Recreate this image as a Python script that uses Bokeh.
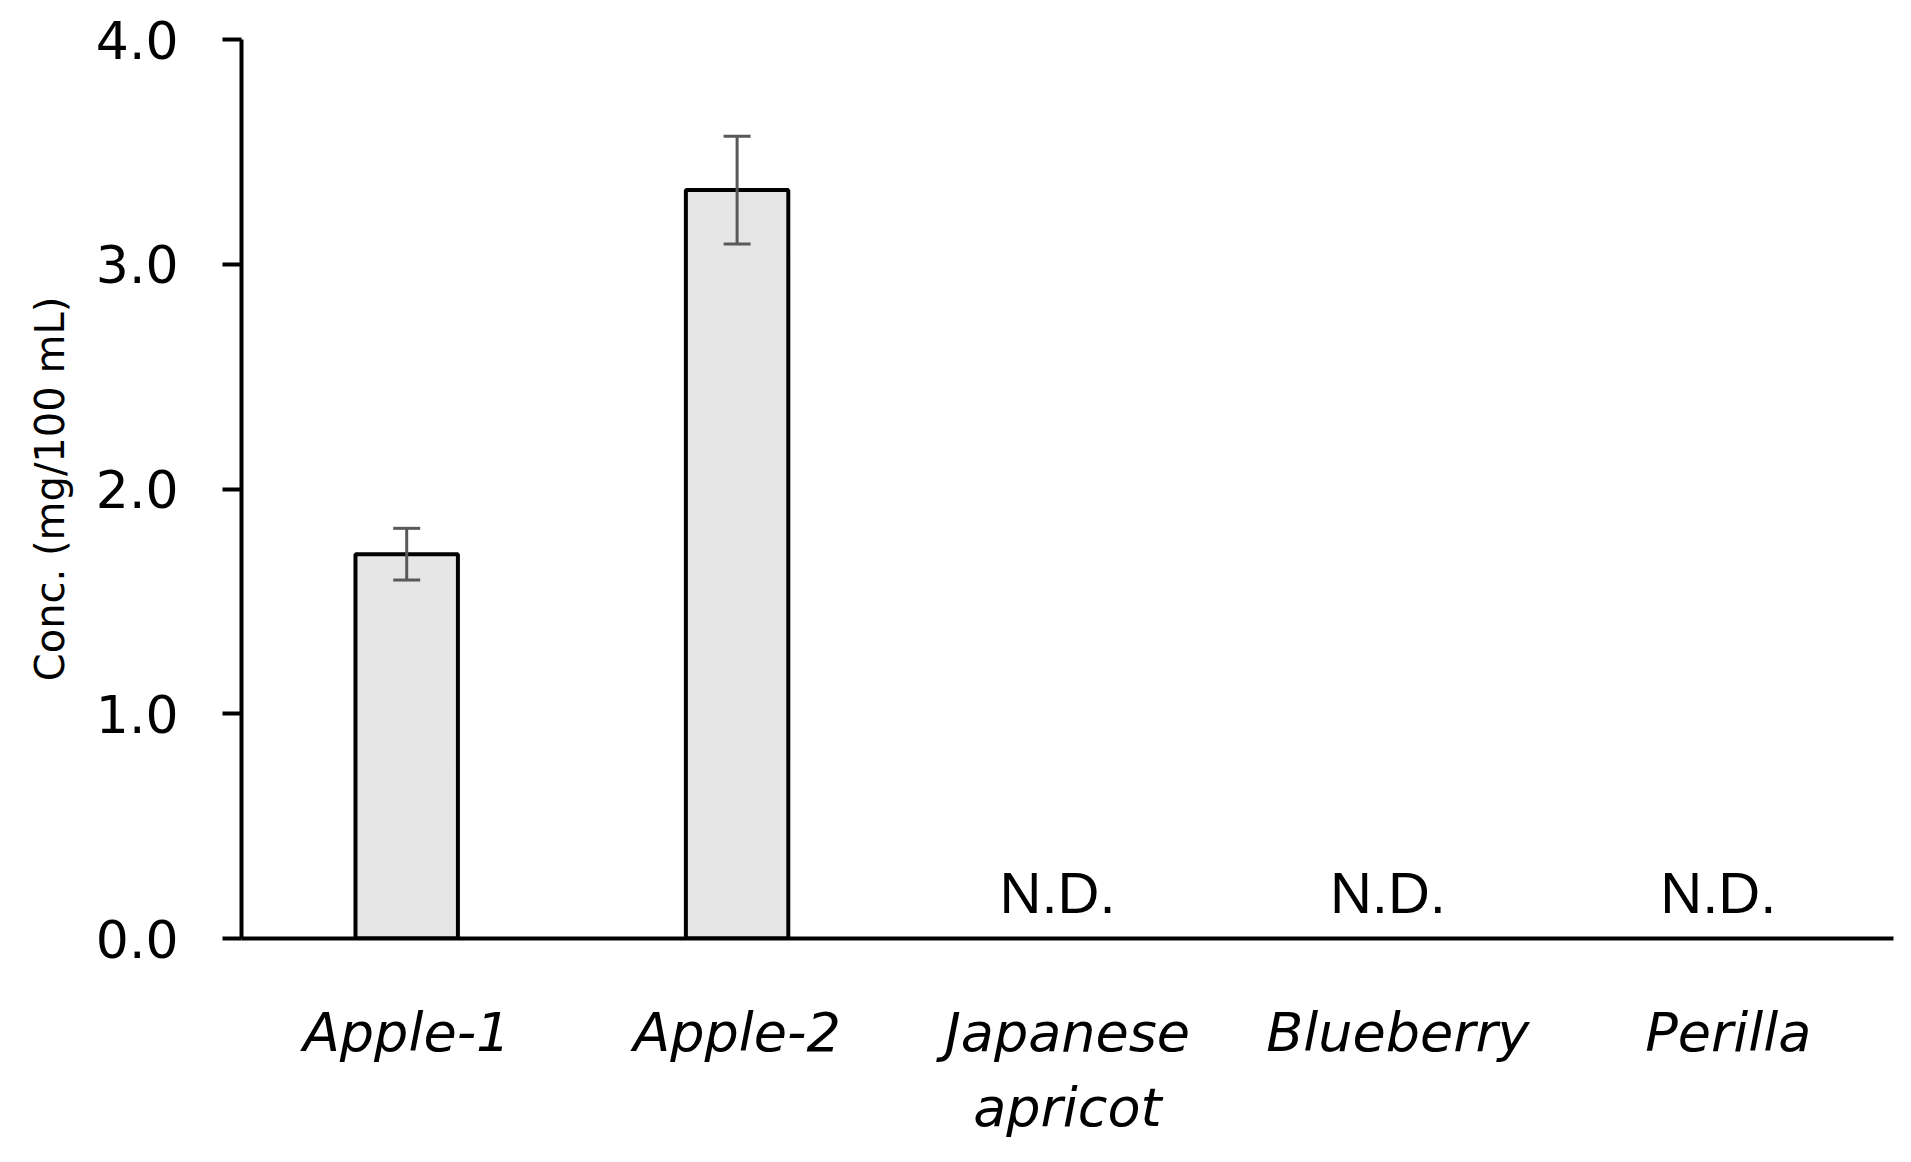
from bokeh.plotting import figure
from bokeh.models import ColumnDataSource, Whisker, FixedTicker, CustomJSTickFormatter
from bokeh.core.properties import value
from bokeh.embed import file_html
from bokeh.resources import INLINE

categories = ["Apple-1", "Apple-2", "Japanese\napricot", "Blueberry", "Perilla"]
conc = [1.71, 3.33, 0.0, 0.0, 0.0]
sd = [0.115, 0.24, 0.0, 0.0, 0.0]
detected = [True, True, False, False, False]
y_ticks = [0.0, 1.0, 2.0, 3.0, 4.0]
nd_text = "N.D."

bar_src = ColumnDataSource(dict(
    x=[c for c, d in zip(categories, detected) if d],
    top=[v for v, d in zip(conc, detected) if d],
    upper=[v + e for v, e, d in zip(conc, sd, detected) if d],
    lower=[v - e for v, e, d in zip(conc, sd, detected) if d],
))
nd_src = ColumnDataSource(dict(
    x=[c for c, d in zip(categories, detected) if not d],
    y=[v for v, d in zip(conc, detected) if not d],
    t=[nd_text for d in detected if not d],
))

p = figure(x_range=categories, y_range=(0, 4), width=1895, height=1146,
           output_backend="svg", toolbar_location=None,
           min_border_left=241, min_border_right=2, min_border_top=39, min_border_bottom=208)

p.vbar(x="x", top="top", width=0.31, source=bar_src,
       fill_color="#e6e6e6", line_color="black", line_width=4)

w = Whisker(base="x", upper="upper", lower="lower", source=bar_src,
            line_color="#595959", line_width=3, level="overlay")
w.upper_head.size = 27
w.lower_head.size = 27
w.upper_head.line_color = "#595959"
w.lower_head.line_color = "#595959"
w.upper_head.line_width = 3
w.lower_head.line_width = 3
p.add_layout(w)

p.text(x="x", y="y", text="t", source=nd_src, text_font=value("Liberation Sans"),
       text_font_size="58px", text_align="center", text_baseline="bottom",
       y_offset=-14, x_offset=-10, text_color="black")

p.xgrid.visible = False
p.ygrid.visible = False
p.outline_line_color = None
p.background_fill_color = "white"
p.border_fill_color = "white"

p.yaxis.ticker = FixedTicker(ticks=y_ticks)
p.yaxis.formatter = CustomJSTickFormatter(code="return tick.toFixed(1);")
p.yaxis.axis_line_width = 4
p.yaxis.axis_line_color = "black"
p.yaxis.major_tick_line_width = 4
p.yaxis.major_tick_line_color = "black"
p.yaxis.major_tick_out = 19
p.yaxis.major_tick_in = 0
p.yaxis.minor_tick_line_color = None
p.yaxis.major_label_text_font = "DejaVu Sans"
p.yaxis.major_label_text_font_size = "52px"
p.yaxis.major_label_text_color = "black"
p.yaxis.major_label_standoff = 44
p.yaxis.axis_label = "Conc. (mg/100 mL)"
p.yaxis.axis_label_text_font = "DejaVu Sans"
p.yaxis.axis_label_text_font_size = "40px"
p.yaxis.axis_label_text_font_style = "normal"
p.yaxis.axis_label_text_color = "black"
p.yaxis.axis_label_standoff = 20

p.xaxis.axis_line_width = 4
p.xaxis.axis_line_color = "black"
p.xaxis.major_tick_line_color = None
p.xaxis.major_tick_out = 0
p.xaxis.minor_tick_line_color = None
p.xaxis.major_label_text_font = "DejaVu Sans"
p.xaxis.major_label_text_font_style = "italic"
p.xaxis.major_label_text_font_size = "54px"
p.xaxis.major_label_text_color = "black"
p.xaxis.major_label_standoff = 62

open("out.html", "w").write(file_html(p, INLINE))
